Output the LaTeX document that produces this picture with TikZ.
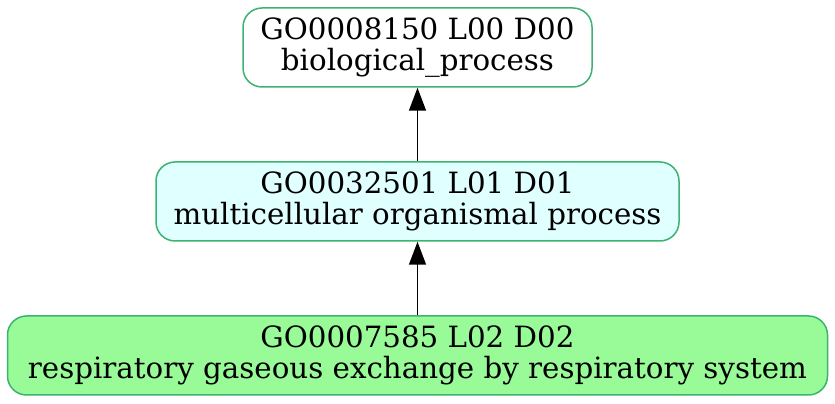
\documentclass[tikz,border=0pt]{standalone}
\usepackage{fontspec}
\setmainfont{DejaVu Serif}
\usetikzlibrary{arrows.meta}
\definecolor{termborder}{HTML}{3CB371}
\definecolor{midfill}{HTML}{E0FFFF}
\definecolor{leaffill}{HTML}{98FB98}
\begin{document}
\begin{tikzpicture}[x=1pt, y=1pt,
    goterm/.style ={rectangle, rounded corners=19pt, draw=termborder, line width=1.5pt,
      inner sep=0pt, minimum height=79pt, align=center,
      font=\fontsize{29.3}{30.5}\selectfont},
    isa/.style ={line width=1.6pt, -{Triangle[length=23pt, width=17pt]}}]
   \useasboundingbox (0,0) rectangle (835,404);
   \node[goterm, fill=white, minimum width=349pt] (root) at (417.5,356.5)
     {GO0008150 L00 D00\\biological\_process};
   \node[goterm, fill=midfill, minimum width=523pt] (multi) at (417.5,202.5)
     {GO0032501 L01 D01\\multicellular organismal process};
   \node[goterm, fill=leaffill, minimum width=820pt] (resp) at (417.5,48.5)
     {GO0007585 L02 D02\\respiratory gaseous exchange by respiratory system};
   \draw[isa] (multi) to (root);
   \draw[isa] (resp) to (multi);
 \end{tikzpicture}
\end{document}
